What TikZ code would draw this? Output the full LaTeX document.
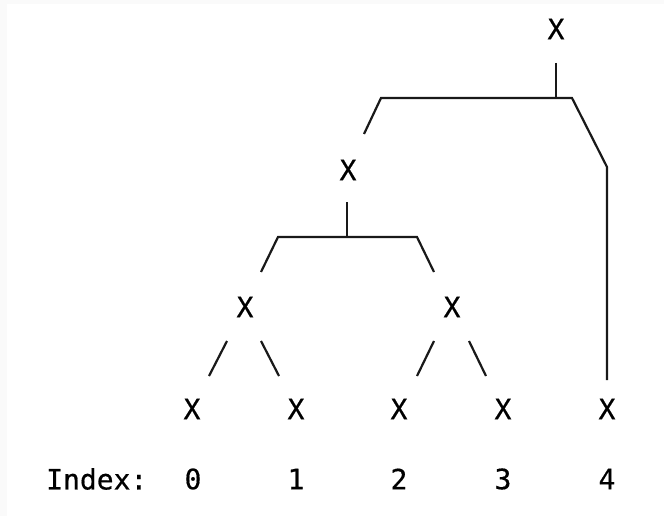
\documentclass[tikz,border=0pt]{standalone}
\usepackage{fontspec}
\setmonofont[FakeBold=0.6,AutoFakeBold=0.6]{DejaVu Sans Mono}
\begin{document}
\begin{tikzpicture}[x=1pt,y=-1pt,
  lbl/.style={font=\ttfamily\bfseries\fontsize{28}{28}\selectfont, inner sep=0pt, anchor=center},
  edge/.style={line width=2.2pt, line join=miter, line cap=butt, black!90}]
% page and its faint frame
\fill[black!2] (0,0) rectangle (664,516);
\fill[white] (7,4) rectangle (664,516);
\useasboundingbox (0,0) rectangle (664,516);

% nodes
\node[lbl] (root) at (556,29) {X};
\node[lbl] (m) at (348,170) {X};
\node[lbl] (a) at (245,307) {X};
\node[lbl] (b) at (452,307) {X};
\node[lbl] (l0) at (192,409) {X};
\node[lbl] (l1) at (296,409) {X};
\node[lbl] (l2) at (399,409) {X};
\node[lbl] (l3) at (503,409) {X};
\node[lbl] (l4) at (607,409) {X};

% index row
\node[lbl, anchor=west] (idx) at (46,479) {Index:};
\node[lbl] (i0) at (193,479) {0};
\node[lbl] (i1) at (296,479) {1};
\node[lbl] (i2) at (399,479) {2};
\node[lbl] (i3) at (503,479) {3};
\node[lbl] (i4) at (607,479) {4};

% connector points
\coordinate (rs) at (556,63);
\coordinate (rj) at (556,98);
\coordinate (rl) at (381,98);
\coordinate (rr) at (572,98);
\coordinate (re) at (364,134);
\coordinate (rk) at (607,167);
\coordinate (rd) at (607,380);

\coordinate (ms) at (347,202);
\coordinate (mj) at (347,237);
\coordinate (ml) at (278,237);
\coordinate (mr) at (417,237);
\coordinate (mle) at (261,272);
\coordinate (mre) at (434,272);

\coordinate (a1) at (227,341); \coordinate (a1e) at (209,376);
\coordinate (a2) at (261,341); \coordinate (a2e) at (279,376);
\coordinate (b1) at (434,341); \coordinate (b1e) at (417,376);
\coordinate (b2) at (469,341); \coordinate (b2e) at (486,376);

% root bracket
\draw[edge] (rs) -- (rj);
\draw[edge] (re) -- (rl) -- (rr) -- (rk) -- (rd);

% middle bracket
\draw[edge] (ms) -- (mj);
\draw[edge] (mle) -- (ml) -- (mr) -- (mre);

% leaf branches
\draw[edge] (a1) -- (a1e);
\draw[edge] (a2) -- (a2e);
\draw[edge] (b1) -- (b1e);
\draw[edge] (b2) -- (b2e);
\end{tikzpicture}
\end{document}
